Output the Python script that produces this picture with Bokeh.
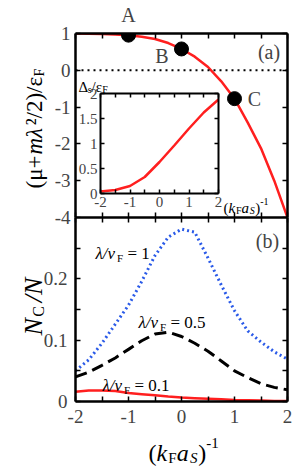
from bokeh.plotting import figure
from bokeh.models import LinearAxis, FixedTicker, Label, Span
from bokeh.embed import file_html
from bokeh.resources import INLINE
import math

# ---------------- data ----------------
mu_x = [-2, -1.75, -1.5, -1.25, -1, -0.75, -0.5, -0.25, 0, 0.25, 0.5, 0.75, 1, 1.25, 1.5, 1.75, 2]
mu_y = [1.0, 0.995, 0.985, 0.97, 0.95, 0.91, 0.85, 0.74, 0.58, 0.37, 0.09, -0.30, -0.77, -1.42, -2.12, -3.0, -4.0]

pts_x = [-1, 0, 1]
pts_y = [0.955, 0.58, -0.77]
pts_label = ["A", "B", "C"]

delta_x = [-2, -1.5, -1, -0.5, 0, 0.5, 1, 1.5, 2]
delta_y = [0.04, 0.07, 0.15, 0.33, 0.63, 0.96, 1.3, 1.62, 1.88]

nc_x = [-2, -1.75, -1.5, -1.25, -1, -0.75, -0.5, -0.25, 0, 0.25, 0.5, 0.75, 1, 1.25, 1.5, 1.75, 2]
nc_lam1 = [0.050, 0.068, 0.095, 0.126, 0.157, 0.196, 0.238, 0.268, 0.281, 0.276, 0.234, 0.190, 0.148, 0.115, 0.097, 0.081, 0.069]
nc_lam05 = [0.040, 0.048, 0.059, 0.071, 0.085, 0.099, 0.110, 0.113, 0.106, 0.095, 0.082, 0.066, 0.050, 0.039, 0.029, 0.023, 0.019]
nc_lam01 = [0.016, 0.018, 0.018, 0.017, 0.014, 0.012, 0.010, 0.008, 0.0065, 0.0055, 0.0045, 0.0035, 0.0025, 0.002, 0.0015, 0.001, 0.0008]
lam_values = ["1", "0.5", "0.1"]

x_ticks = [-2, -1, 0, 1, 2]
x_tick_labels = ["-2", "-1", "0", "1", "2"]
x_minor = [-1.5, -0.5, 0.5, 1.5]
mu_ticks = [-4, -3, -2, -1, 0, 1]
mu_tick_labels = ["-4", "-3", "-2", "-1", "0", "1"]
nc_ticks = [0, 0.1, 0.2]
nc_tick_labels = ["0", "0.1", "0.2"]
nc_minor = [0.05, 0.15, 0.25]
d_ticks = [0, 0.5, 1, 1.5, 2]
d_tick_labels = ["0", "0.5", "1", "1.5", "2"]

FONT = "Liberation Serif"
RED = "#ff1f1f"
BLUE = "#2a5ae8"

# page geometry (pixels)
PAGE_W, PAGE_H = 299, 470
FIG_W = 292
A_L, A_R, A_T, A_B = 75, 287, 33, 217   # frame of panel (a)
B_T, B_B = 217, 401                      # frame of panel (b)
I_L, I_R, I_T, I_B = 100, 218, 93, 193  # frame of the inset

# --------------- helpers ---------------
W_UP = {'(': .333, ')': .333, '+': .564, '/': .278, '.': .25, '-': .333, ' ': .25, '=': .564,
        'F': .556, 'C': .667, 'N': .722, 's': .389, 'S': .556, 'μ': .576, 'ε': .44, 'Δ': .612,
        '²': .3, 'λ': .5}
W_IT = {'k': .444, 'a': .5, 'v': .444, 'm': .722, 'N': .667, 'S': .5, 'λ': .5, '/': .278}


def text_width(t, size, style):
    tab = W_IT if style == "italic" else W_UP
    w = sum(tab.get(c, W_UP.get(c, 0.5)) for c in t) * size
    if style == "italic":
        w += 0.05 * size
    return w


def rich(fig, pieces, sx, sy, angle=0.0):
    pos = 0.0
    for text, size, style, dy in pieces:
        lead = len(text) - len(text.lstrip(" "))
        pos += lead * 0.25 * size
        text = text.strip(" ")
        if text:
            if angle == 0:
                x, y = sx + pos, sy + dy
            else:
                x, y = sx - dy, sy + pos
            fig.add_layout(Label(x=x, y=y, x_units="screen", y_units="screen", text=text,
                                 angle=angle, text_font=FONT, text_font_size=f"{size}px",
                                 text_font_style=style, text_baseline="alphabetic",
                                 text_align="left", text_color="black"))
            pos += text_width(text, size, style)


def add_axes(fig, xt, xl, xm, yt, yl, ym, show_x, show_y, size, tick_len, lw, standoff):
    for side, ticks, labels, minor, show in (("below", xt, xl, xm, show_x),
                                              ("above", xt, xl, xm, False),
                                              ("left", yt, yl, ym, show_y),
                                              ("right", yt, yl, ym, False)):
        ax = LinearAxis(ticker=FixedTicker(ticks=ticks, minor_ticks=minor),
                        major_tick_in=tick_len, major_tick_out=0,
                        minor_tick_in=tick_len, minor_tick_out=0,
                        axis_line_width=lw, major_tick_line_width=1.5, minor_tick_line_width=1.5,
                        major_label_text_font=FONT)
        if show:
            ax.major_label_overrides = {t: l for t, l in zip(ticks, labels)}
            ax.major_label_text_font_size = f"{size}px"
            ax.major_label_standoff = standoff
        else:
            ax.major_label_text_color = None
            ax.major_label_text_font_size = "1px"
            ax.major_label_standoff = 0
        fig.add_layout(ax, side)


def base_fig(left, top, **kw):
    f = figure(output_backend="svg", toolbar_location=None, x_axis_location=None,
               y_axis_location=None, outline_line_color=None, border_fill_color=None,
               styles={"position": "absolute", "left": f"{left}px", "top": f"{top}px"}, **kw)
    f.grid.visible = False
    return f


# --------------- panel (a) ---------------
pa = base_fig(0, 0, width=FIG_W, height=A_B + 14, x_range=(-2, 2), y_range=(-4, 1),
              min_border_left=A_L, min_border_right=FIG_W - A_R, min_border_top=A_T,
              min_border_bottom=14)
add_axes(pa, x_ticks, x_tick_labels, x_minor, mu_ticks, mu_tick_labels, [],
         False, True, 19, 5, 2.5, 5)
pa.add_layout(Span(location=0, dimension="width", line_color="black", line_width=2, line_dash="2 4"))
pa.line(mu_x, mu_y, line_color=RED, line_width=2.5)
pa.scatter(pts_x, pts_y, size=14, color="black")

# --------------- panel (b) ---------------
pb = base_fig(0, B_T, width=FIG_W, height=250, x_range=(-2, 2), y_range=(0, 0.3),
              min_border_left=A_L, min_border_right=FIG_W - A_R, min_border_top=0,
              min_border_bottom=250 - (B_B - B_T))
add_axes(pb, x_ticks, x_tick_labels, x_minor, nc_ticks, nc_tick_labels, nc_minor,
         True, True, 19, 5, 2.5, 8)
pb.line(nc_x, nc_lam1, line_color=BLUE, line_width=3, line_dash="2 3")
pb.line(nc_x, nc_lam05, line_color="black", line_width=3, line_dash="12 6")
pb.line(nc_x, nc_lam01, line_color=RED, line_width=2.5)

# --------------- inset ---------------
ins_left, ins_top, ins_w, ins_h = 52, 70, 232, 152
ins = base_fig(ins_left, ins_top, width=ins_w, height=ins_h, x_range=(-2, 2), y_range=(0, 2),
               min_border_left=I_L - ins_left, min_border_right=ins_left + ins_w - I_R,
               min_border_top=I_T - ins_top, min_border_bottom=ins_top + ins_h - I_B,
               background_fill_color="white")
add_axes(ins, x_ticks, x_tick_labels, x_minor, d_ticks, d_tick_labels, [],
         True, True, 15, 4, 2, 3)
ins.line(delta_x, delta_y, line_color=RED, line_width=2.5)

# --------------- text overlay (same data scale as panel (a)) ---------------
ux = (A_R - A_L) / 4.0
uy = (A_B - A_T) / 5.0
ov = base_fig(0, 0, width=PAGE_W, height=PAGE_H,
              x_range=(-2 - A_L / ux, 2 + (PAGE_W - A_R) / ux),
              y_range=(-4 - (PAGE_H - A_B) / uy, 1 + A_T / uy),
              min_border=0, background_fill_color=None)

offsets = [(0, 20), (-19.5, -7.4), (20, 0)]
for px, py, lab, (ox, oy) in zip(pts_x, pts_y, pts_label, offsets):
    ov.add_layout(Label(x=px, y=py, x_offset=ox, y_offset=oy, text=lab, text_font=FONT,
                        text_font_size="20px", text_align="center", text_baseline="middle"))


def S(y):
    return PAGE_H - y


for txt, (cx, cy) in zip(["(a)", "(b)"], [(268.5, 51), (267, 240)]):
    ov.add_layout(Label(x=cx, y=S(cy), x_units="screen", y_units="screen", text=txt,
                        text_font=FONT, text_font_size="20px", text_align="center",
                        text_baseline="middle"))

rich(ov, [("(μ+", 23, "normal", 0), ("mλ", 23, "italic", 0), ("²/2)/ε", 23, "normal", 0),
          ("F", 14, "normal", -5)], 34, S(188), angle=math.pi / 2)
rich(ov, [("N", 26, "italic", 0), ("C", 16, "normal", -5), (" ", 16, "normal", 0),
          ("/N", 26, "italic", 0)], 33, S(335), angle=math.pi / 2)
rich(ov, [("(", 24, "normal", 0), ("k", 24, "italic", 0), ("F", 15, "normal", -5),
          ("a", 24, "italic", 0), ("S", 15, "italic", -5), (")", 24, "normal", 0),
          ("-1", 15, "normal", 10)], 148, S(452))
lam_pos = [(95, 253), (138, 322), (102, 385)]
for val, (sx, sy) in zip(lam_values, lam_pos):
    rich(ov, [("λ/v", 17, "italic", 0), ("F", 11, "normal", -4), (" = " + val, 17, "normal", 0)],
         sx, S(sy))
rich(ov, [("Δ", 15, "normal", 0), ("s", 10, "normal", -3), ("/ε", 15, "normal", 0),
          ("F", 10, "normal", -3)], 78, S(86))
rich(ov, [("(", 15, "normal", 0), ("k", 15, "italic", 0), ("F", 10, "normal", -3),
          ("a", 15, "italic", 0), ("S", 10, "italic", -3), (")", 15, "normal", 0),
          ("-1", 10, "normal", 6)], 223, S(207))

open("out.html", "w").write(file_html([pa, pb, ins, ov], INLINE))
